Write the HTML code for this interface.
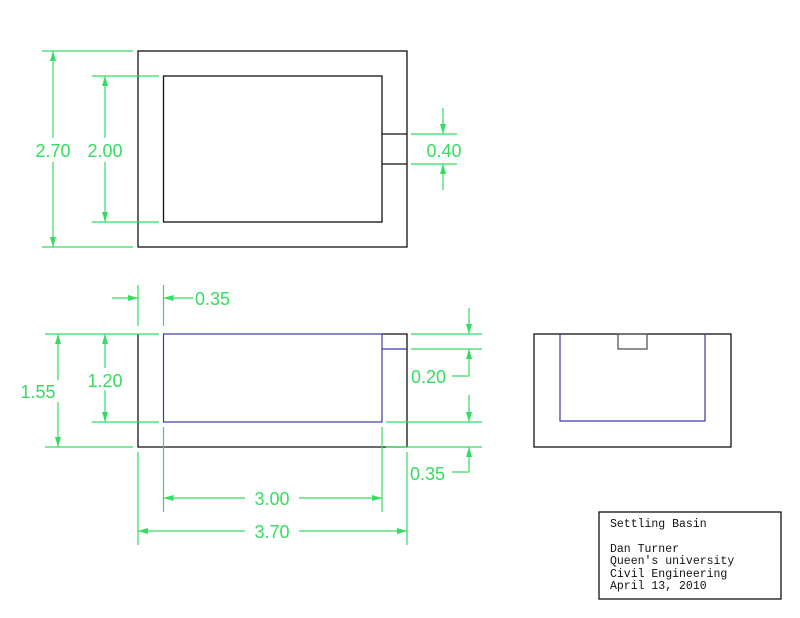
<!DOCTYPE html>
<html><head><meta charset="utf-8"><style>
html,body{margin:0;padding:0;background:#fff;}
svg{display:block}
.g{stroke:#33dd5f;stroke-width:1.2;fill:none}
.k{stroke:#111;stroke-width:1.3;fill:none}
.b{stroke:#3a3aa0;stroke-width:1.2;fill:none}
.t{fill:#33dd5f;font-family:"Liberation Sans",sans-serif;font-size:18px}
.tb{fill:#111;font-family:"Liberation Mono",monospace;font-size:11.5px}
</style></head><body>
<svg width="800" height="618" viewBox="0 0 800 618" xmlns="http://www.w3.org/2000/svg">
<defs>
<marker id="a" markerWidth="10" markerHeight="6" refX="10" refY="3" orient="auto" markerUnits="userSpaceOnUse"><path d="M0,0 L10,3 L0,6 Z" fill="#33dd5f"/></marker>
</defs>
<!-- TOP VIEW -->
<rect class="k" x="138" y="51" width="269" height="196"/>
<rect class="k" x="163.5" y="76" width="218.5" height="146"/>
<path class="k" d="M382 134 H407 M382 164 H407"/>
<path class="g" d="M42 51 H133 M42 247 H133 M92 76 H159 M92 222 H159 M411 134 H457 M411 164 H457"/>
<path class="g" d="M53 138 V51" marker-end="url(#a)"/><path class="g" d="M53 162 V247" marker-end="url(#a)"/>
<path class="g" d="M105 138 V76" marker-end="url(#a)"/><path class="g" d="M105 162 V222" marker-end="url(#a)"/>
<path class="g" d="M443 108 V134" marker-end="url(#a)"/><path class="g" d="M443 190 V164" marker-end="url(#a)"/>
<text class="t" x="53" y="157" text-anchor="middle">2.70</text>
<text class="t" x="105" y="157" text-anchor="middle">2.00</text>
<text class="t" x="444" y="157" text-anchor="middle">0.40</text>
<!-- FRONT VIEW -->
<path class="k" d="M138 334 V447 H407 V334 H382"/>
<rect class="b" x="163.5" y="334" width="218.5" height="88"/>
<path class="b" d="M382 349 H407"/>
<path class="g" d="M138 285 V326 M163.5 285 V326"/>
<path class="g" d="M112 298 H138" marker-end="url(#a)"/><path class="g" d="M193 298 H163.5" marker-end="url(#a)"/>
<text class="t" x="195" y="305">0.35</text>
<path class="g" d="M45 334 H159 M45 447 H133 M92 422 H159"/>
<path class="g" d="M58 380 V334" marker-end="url(#a)"/><path class="g" d="M58 402 V447" marker-end="url(#a)"/>
<path class="g" d="M105 368 V334" marker-end="url(#a)"/><path class="g" d="M105 390 V422" marker-end="url(#a)"/>
<text class="t" x="38" y="398" text-anchor="middle">1.55</text>
<text class="t" x="105" y="387" text-anchor="middle">1.20</text>
<path class="g" d="M411 334 H482 M411 349 H482 M386 422 H482 M386 447 H482"/>
<path class="g" d="M469 308 V334" marker-end="url(#a)"/>
<path class="g" d="M452 376 H469 V349" marker-end="url(#a)"/>
<path class="g" d="M469 395 V422" marker-end="url(#a)"/>
<path class="g" d="M452 472 H469 V447" marker-end="url(#a)"/>
<text class="t" x="411" y="383">0.20</text>
<text class="t" x="410" y="480">0.35</text>
<path class="g" d="M163.5 427 V512 M382 427 V512 M138 452 V545 M407 452 V545"/>
<path class="g" d="M245 498 H163.5" marker-end="url(#a)"/><path class="g" d="M299 498 H382" marker-end="url(#a)"/>
<path class="g" d="M245 531 H138" marker-end="url(#a)"/><path class="g" d="M299 531 H407" marker-end="url(#a)"/>
<text class="t" x="272" y="505" text-anchor="middle">3.00</text>
<text class="t" x="272" y="538" text-anchor="middle">3.70</text>
<!-- SIDE VIEW -->
<rect class="k" x="534" y="334" width="197" height="113"/>
<path class="b" d="M560 334 V421 H705 V334"/>
<rect class="k" x="618" y="334" width="29" height="15" style="stroke:#555"/>
<!-- TITLE BLOCK -->
<rect class="k" x="599" y="512" width="182" height="87"/>
<text class="tb" x="610" y="527">Settling Basin</text>
<text class="tb" x="610" y="552">Dan Turner</text>
<text class="tb" x="610" y="564">Queen's university</text>
<text class="tb" x="610" y="577">Civil Engineering</text>
<text class="tb" x="610" y="589">April 13, 2010</text>
</svg>
</body></html>
